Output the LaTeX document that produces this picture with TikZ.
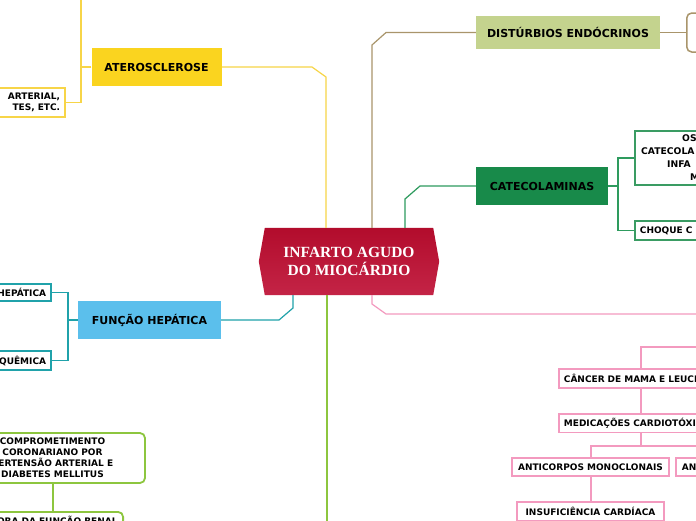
\documentclass[tikz,border=0pt]{standalone}
\usepackage{fontspec}
\setsansfont{DejaVu Sans}
\newfontfamily\cfont{Liberation Serif}
\usetikzlibrary{calc,backgrounds}
\definecolor{crim}{HTML}{B20C2C}
\definecolor{crimb}{HTML}{C42446}
\definecolor{yelfill}{HTML}{FAD41F}
\definecolor{yel}{HTML}{F7D548}
\definecolor{distfill}{HTML}{C4D38E}
\definecolor{brn}{HTML}{A9956B}
\definecolor{catefill}{HTML}{188A4A}
\definecolor{grn}{HTML}{2E9B5E}
\definecolor{grnb}{HTML}{3A9C63}
\definecolor{funcfill}{HTML}{5BBFEC}
\definecolor{tea}{HTML}{20A2AA}
\definecolor{pnk}{HTML}{F39ABF}
\definecolor{lim}{HTML}{8DC63F}
\begin{document}
\begin{tikzpicture}[x=1pt,y=-1pt,
  mainbox/.style={inner sep=0pt, font=\sffamily\bfseries\fontsize{11}{13}\selectfont, text=black},
  childbox/.style={draw, line width=1.8pt, fill=white, inner sep=0pt, font=\sffamily\bfseries\fontsize{9}{11}\selectfont},
  ctext/.style={inner sep=0pt, font=\sffamily\bfseries\fontsize{9.2}{11}\selectfont},
  conn/.style={line width=1.2pt}]
\useasboundingbox (0,0) rectangle (696,520);
\clip (0,0) rectangle (696,520);

% central node
\node[inner sep=0pt, minimum width=168pt, minimum height=67pt, text=white, align=center,
      font=\cfont\bfseries\fontsize{15.5}{18}\selectfont] (imd) at (349,261.5) {INFARTO AGUDO\\DO MIOCÁRDIO};
\begin{scope}[on background layer]
\fill[white] (0,0) rectangle (696,520);
\shade[top color=crim, middle color=crim, bottom color=crimb]
  (imd.north west) -- (imd.north east) -- ($(imd.east)+(6,0)$) -- (imd.south east)
  -- (imd.south west) -- ($(imd.west)+(-6,0)$) -- cycle;
\end{scope}

% main branches
\node[mainbox, fill=yelfill, minimum width=130pt, minimum height=38pt] (ater) at (156.5,67) {ATEROSCLEROSE};
\node[mainbox, fill=distfill, minimum width=184pt, minimum height=33pt] (dist) at (568,32.5) {DISTÚRBIOS ENDÓCRINOS};
\node[mainbox, fill=catefill, minimum width=132pt, minimum height=38pt] (cate) at (542,186) {CATECOLAMINAS};
\node[mainbox, fill=funcfill, minimum width=143pt, minimum height=38pt] (func) at (149.5,320) {FUNÇÃO HEPÁTICA};

\coordinate (y1) at (326,77);
\draw[conn, yel] (imd.north -| y1) -- (y1) -- (312,67) -- (ater.east);
\coordinate (b1) at (372,45);
\draw[conn, brn] (imd.north -| b1) -- (b1) -- (386,32.5) -- (dist.west);
\coordinate (g1) at (405,199);
\draw[conn, grn] (imd.north -| g1) -- (g1) -- (420,186) -- (cate.west);
\coordinate (t1) at (293,308);
\draw[conn, tea] (imd.south -| t1) -- (t1) -- (279,320) -- (func.east);
\coordinate (p1) at (372,304);
\coordinate (pend) at (700,314);
\draw[conn, pnk] (imd.south -| p1) -- (p1) -- (386,314) -- (pend);
\coordinate (lend) at (327,525);
\draw[conn, lim] (imd.south -| lend) -- (lend);

% distúrbios child
\node[draw=brn, line width=1.5pt, rounded corners=5pt, fill=white, minimum width=60pt, minimum height=39pt, anchor=west] (dch) at (686,32.5) {};
\draw[conn, brn] (dist.east) -- (dch.west);

% catecolaminas children
\node[childbox, draw=grnb, anchor=north west, minimum width=120pt, minimum height=54pt] (c1) at (634,130) {};
\node[ctext, anchor=west] (c1a) at (682,138.3) {OS};
\node[ctext, anchor=west] (c1b) at (641,151.5) {CATECOLA};
\node[ctext, anchor=west] (c1c) at (667,164.3) {INFA};
\node[ctext, anchor=west] (c1d) at (690,176.7) {M};
\node[childbox, draw=grnb, anchor=west, text width=110pt, align=left, inner xsep=5pt, minimum height=19pt] (c2) at (634,230.5) {CHOQUE C};
\coordinate (gj) at (618,186);
\draw[conn, grn] (cate.east) -- (gj);
\draw[conn, grn] (c1.west) -| (gj |- c2.west) -- (c2.west);

% função hepática children
\node[childbox, draw=tea, anchor=east, text width=100pt, align=right, inner xsep=5pt, minimum height=17.5pt] (hep1) at (52,292.5) {HEPÁTICA};
\node[childbox, draw=tea, anchor=east, text width=100pt, align=right, inner xsep=5pt, minimum height=19pt] (hep2) at (52,360.5) {QUÊMICA};
\coordinate (tj) at (68,320);
\draw[conn, tea] (func.west) -- (tj);
\draw[conn, tea] (hep1.east) -| (tj |- hep2.east) -- (hep2.east);

% aterosclerose children
\node[childbox, draw=yel, anchor=east, text width=100pt, align=right, inner xsep=5pt, minimum height=29pt] (aterc) at (66,102.5) {ARTERIAL,\\TES, ETC.\hspace*{4pt}};
\coordinate (yj) at (81,67);
\coordinate (ytop) at (81,-5);
\draw[conn, yel] (ater.west) -- (yj);
\draw[conn, yel] (ytop) |- (aterc.east);

% lime subtree
\node[childbox, draw=lim, rounded corners=5pt, minimum width=185pt, minimum height=50pt, align=center] (lb) at (52.5,458)
  {COMPROMETIMENTO\\CORONARIANO POR\\PERTENSÃO ARTERIAL E\\DIABETES MELLITUS};
\node[childbox, draw=lim, rounded corners=5pt, anchor=north east, text width=140pt, align=right, inner xsep=5.5pt, minimum height=19pt] (ren) at (124,511) {ORA DA FUNÇÃO RENAL};
\coordinate (lx) at (53,490);
\draw[conn, lim] (lb.south -| lx) -- (ren.north -| lx);

% pink subtree
\node[childbox, draw=pnk, anchor=north west, text width=200pt, align=left, inner xsep=5pt, minimum height=19pt] (canc) at (558,368) {CÂNCER DE MAMA E LEUCE};
\node[childbox, draw=pnk, anchor=north west, text width=200pt, align=left, inner xsep=5pt, minimum height=18.5pt] (med) at (558,413) {MEDICAÇÕES CARDIOTÓXI};
\node[childbox, draw=pnk, minimum width=157pt, minimum height=18pt] (anti) at (590.5,467) {ANTICORPOS MONOCLONAIS};
\node[childbox, draw=pnk, anchor=west, text width=60pt, align=left, inner xsep=6pt, minimum height=18pt] (ant2) at (675,467) {ANT};
\node[childbox, draw=pnk, minimum width=147pt, minimum height=19pt] (insu) at (590.5,511.5) {INSUFICIÊNCIA CARDÍACA};
\coordinate (pk1) at (700,347);
\coordinate (pc) at (641,347);
\draw[conn, pnk] (pk1) -- (pc) -- (pc |- canc.north);
\draw[conn, pnk] (canc.south -| pc) -- (med.north -| pc);
\coordinate (pm) at (641,446);
\coordinate (pa) at (591,446);
\coordinate (pr) at (700,446);
\draw[conn, pnk] (med.south -| pm) -- (pm);
\draw[conn, pnk] (pr) -- (pa) -- (anti.north -| pa);
\draw[conn, pnk] (anti.south -| pa) -- (insu.north -| pa);
\end{tikzpicture}
\end{document}
